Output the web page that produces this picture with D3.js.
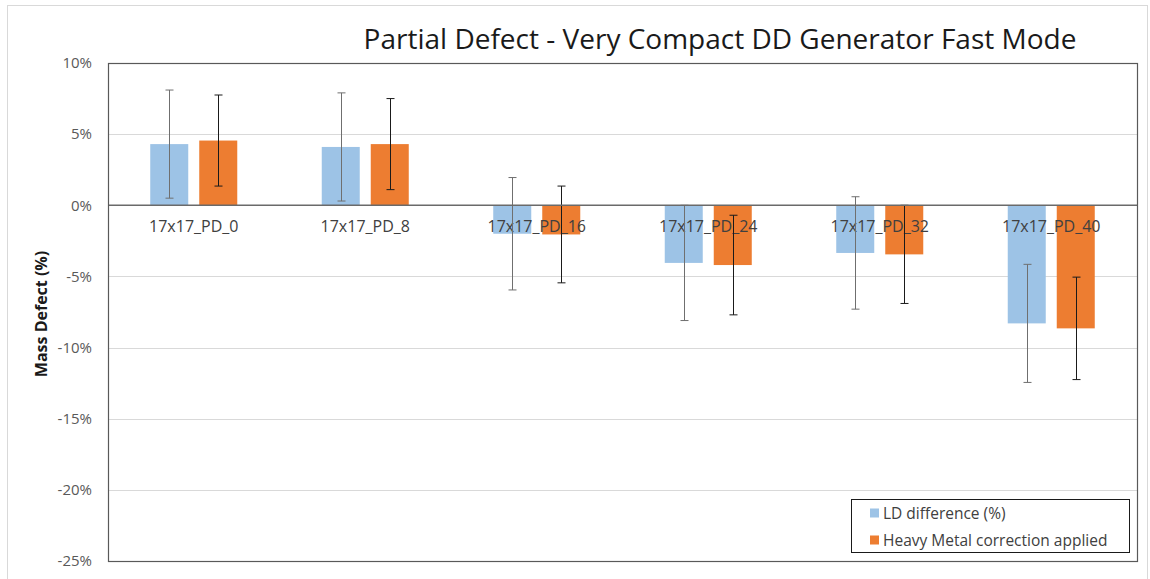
<!DOCTYPE html>
<html>
<head>
<meta charset="utf-8">
<script src="https://cdn.jsdelivr.net/npm/d3@7"></script>
<style>
  html, body { margin: 0; padding: 0; background: #fff; }
  svg { display: block; }
  text { font-family: "Open Sans", "Noto Sans", sans-serif; }
</style>
</head>
<body>
<script>
// Categories and series values (mass defect, %)
const categories = ["17x17_PD_0", "17x17_PD_8", "17x17_PD_16", "17x17_PD_24", "17x17_PD_32", "17x17_PD_40"];
const seriesNames = ["LD difference (%)", "Heavy Metal correction applied"];
const ldDifference = [4.3, 4.1, -2.0, -4.05, -3.35, -8.3];
const heavyMetalCorrected = [4.55, 4.3, -2.05, -4.2, -3.45, -8.65];
// Symmetric error bar half-widths (%)
const ldError = [3.8, 3.8, 3.95, 4.05, 3.95, 4.15];
const heavyMetalError = [3.2, 3.2, 3.4, 3.5, 3.45, 3.6];
// Y axis ticks (%)
const yTicks = [10, 5, 0, -5, -10, -15, -20, -25];

const W = 1150, H = 579;
const plot = { left: 108, right: 1137, top: 63, bottom: 561 };
const colors = ["#9DC3E6", "#ED7D31"];
const errColors = ["#6f6f6f", "#1a1a1a"];

const svg = d3.select("body").append("svg").attr("width", W).attr("height", H);

// Outer chart-area frame
svg.append("rect")
  .attr("x", 7.5).attr("y", 5.5).attr("width", 1140).attr("height", 600)
  .attr("fill", "#fff").attr("stroke", "#d9d9d9");

const y = d3.scaleLinear().domain([-25, 10]).range([plot.bottom, plot.top]);
const x0 = d3.scaleBand().domain(categories).range([plot.left, plot.right]);
const x1 = d3.scaleBand().domain(seriesNames).range([0, x0.bandwidth()])
  .paddingInner(0.2245).paddingOuter(0.862);

// Gridlines
svg.append("g")
  .selectAll("line")
  .data(yTicks.filter(t => t !== 0 && t !== 10 && t !== -25))
  .join("line")
  .attr("x1", plot.left).attr("x2", plot.right)
  .attr("y1", d => Math.round(y(d)) + 0.5).attr("y2", d => Math.round(y(d)) + 0.5)
  .attr("stroke", "#d9d9d9").attr("stroke-width", 1);

// Y axis tick labels
const yAxis = d3.axisLeft(y).tickValues(yTicks).tickSize(0).tickPadding(16)
  .tickFormat(d => d + "%");
svg.append("g")
  .attr("transform", `translate(${plot.left},0)`)
  .call(yAxis)
  .call(g => g.select(".domain").remove())
  .call(g => g.selectAll("text")
    .attr("fill", "#595959")
    .style("font-size", "15px")
    .style("font-family", "'Open Sans', sans-serif"));

// Bars
const series = [
  { name: seriesNames[0], values: ldDifference, err: ldError },
  { name: seriesNames[1], values: heavyMetalCorrected, err: heavyMetalError }
];

series.forEach((s, si) => {
  const g = svg.append("g");
  const rows = categories.map((c, i) => ({ c, v: s.values[i], e: s.err[i] }));
  g.selectAll("rect")
    .data(rows)
    .join("rect")
    .attr("x", d => x0(d.c) + x1(s.name))
    .attr("width", x1.bandwidth())
    .attr("y", d => y(Math.max(0, d.v)))
    .attr("height", d => Math.abs(y(d.v) - y(0)))
    .attr("fill", colors[si]);
});

// Category labels sit just under the zero line
svg.append("g")
  .selectAll("text")
  .data(categories)
  .join("text")
  .attr("x", d => x0(d) + x0.bandwidth() / 2)
  .attr("y", y(0) + 27)
  .attr("text-anchor", "middle")
  .attr("fill", "#404040")
  .style("font-size", "16px")
  .text(d => d);

// Error bars
series.forEach((s, si) => {
  const g = svg.append("g");
  const rows = categories.map((c, i) => ({ c, v: s.values[i], e: s.err[i] }));
  const cx = d => Math.round(x0(d.c) + x1(s.name) + x1.bandwidth() / 2) + 0.5;
  g.selectAll("line.stem").data(rows).join("line")
    .attr("x1", cx).attr("x2", cx)
    .attr("y1", d => y(d.v + d.e)).attr("y2", d => y(d.v - d.e))
    .attr("stroke", errColors[si]).attr("stroke-width", 1);
  [1, -1].forEach(sign => {
    g.selectAll(null).data(rows).join("line")
      .attr("x1", d => cx(d) - 4).attr("x2", d => cx(d) + 4)
      .attr("y1", d => y(d.v + sign * d.e)).attr("y2", d => y(d.v + sign * d.e))
      .attr("stroke", errColors[si]).attr("stroke-width", 1);
  });
});

// Zero line
svg.append("line")
  .attr("x1", plot.left).attr("x2", plot.right)
  .attr("y1", y(0)).attr("y2", y(0))
  .attr("stroke", "#6a6a6a").attr("stroke-width", 1.6);

// Plot frame
svg.append("rect")
  .attr("x", plot.left + 0.5).attr("y", plot.top + 0.5)
  .attr("width", plot.right - plot.left).attr("height", plot.bottom - plot.top)
  .attr("fill", "none").attr("stroke", "#595959").attr("stroke-width", 1.2);

// Y axis title
svg.append("text")
  .attr("transform", `translate(47,${(y(-5) + y(-10)) / 2 + 2}) rotate(-90)`)
  .attr("text-anchor", "middle")
  .attr("fill", "#1a1a1a")
  .style("font-size", "16px")
  .style("font-weight", "bold")
  .text("Mass Defect (%)");

// Chart title
svg.append("text")
  .attr("x", 720).attr("y", 49)
  .attr("text-anchor", "middle")
  .attr("fill", "#1a1a1a")
  .style("font-size", "28px")
  .text("Partial Defect - Very Compact DD Generator Fast Mode");

// Legend
const legend = svg.append("g");
legend.append("rect")
  .attr("x", 851.5).attr("y", 499.5).attr("width", 278).attr("height", 53)
  .attr("fill", "#fff").attr("stroke", "#1a1a1a").attr("stroke-width", 1);
seriesNames.forEach((name, i) => {
  const ly = 513 + i * 27;
  legend.append("rect")
    .attr("x", 870).attr("y", ly - 4.5).attr("width", 9).attr("height", 9)
    .attr("fill", colors[i]);
  legend.append("text")
    .attr("x", 883).attr("y", ly + 5.5)
    .attr("fill", "#404040")
    .style("font-size", "15.5px")
    .text(name);
});
</script>
</body>
</html>
